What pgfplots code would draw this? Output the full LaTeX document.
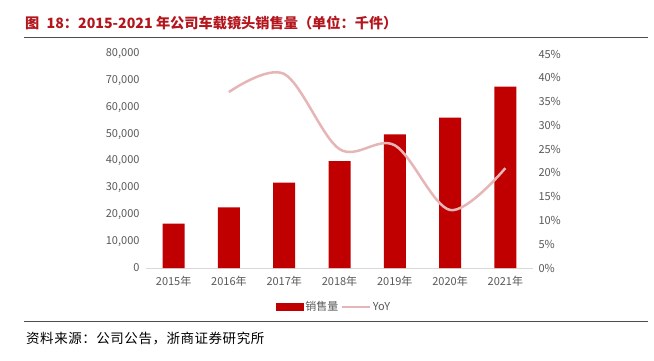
\documentclass[border=0pt]{standalone}
\usepackage{pgfplots}
\pgfplotsset{compat=1.18}
\usepackage{fontspec}
\setmainfont{Noto Sans CJK SC}
\definecolor{barred}{HTML}{C00000}
\definecolor{yoy}{HTML}{E6B6B6}
\definecolor{titlered}{HTML}{B4161E}
\definecolor{tickgray}{HTML}{595959}
\definecolor{axgray}{HTML}{D9D9D9}
\begin{document}
\begin{tikzpicture}[x=1pt,y=1pt]
\fill[white] (0,0) rectangle (654,360);
\node[anchor=west, text=titlered, font=\fontsize{14.2}{16}\selectfont\bfseries, inner sep=0pt] at (25,337) {图\hspace{4pt} 18：2015-2021 年公司车载镜头销售量（单位：千件）};
\draw[color=black!70, line width=1pt] (24,323) -- (648,323);
\draw[color=black!70, line width=1pt] (24,38.5) -- (648,38.5);
\node[anchor=west, text=black, font=\fontsize{13.5}{15}\selectfont\addfontfeatures{LetterSpace=4}, inner sep=0pt] at (26,21) {资料来源：公司公告，浙商证券研究所};

\begin{axis}[at={(146pt,92pt)}, anchor=south west, scale only axis,
  width=387pt, height=214pt,
  xmin=-0.5, xmax=6.5, ymin=0, ymax=80000,
  xtick={0,1,2,3,4,5,6},
  xticklabels={2015年,2016年,2017年,2018年,2019年,2020年,2021年},
  ytick={0,10000,20000,30000,40000,50000,60000,70000,80000},
  scaled y ticks=false,
  /pgf/number format/.cd, 1000 sep={,}, assume math mode=true, /pgfplots/.cd,
  axis x line*=bottom, axis y line*=left,
  x axis line style={draw=axgray, line width=0.8pt, -},
  y axis line style={draw=none},
  major tick length=0pt,
  tick label style={text=tickgray, font=\fontsize{11}{13}\selectfont},
  xticklabel style={yshift=-5pt},
  yticklabel style={xshift=-3pt},
  clip=false]
\addplot[ybar, bar width=22pt, fill=barred, draw=none] coordinates {
(0,16600) (1,22700) (2,31900) (3,40000) (4,50000) (5,56200) (6,67800)};
\end{axis}

\begin{axis}[at={(146pt,92pt)}, anchor=south west, scale only axis,
  width=387pt, height=214pt,
  xmin=-0.5, xmax=6.5, ymin=0, ymax=45,
  ytick={0,5,...,45},
  yticklabel={\pgfmathprintnumber{\tick}\%},
  /pgf/number format/.cd, assume math mode=true, /pgfplots/.cd,
  axis x line=none, axis y line*=right,
  y axis line style={draw=none},
  major tick length=0pt,
  tick label style={text=tickgray, font=\fontsize{11}{13}\selectfont},
  yticklabel style={xshift=2pt},
  legend style={at={(0.486,-0.182)}, anchor=center, draw=none, fill=none,
    legend columns=2, font=\fontsize{11}{13}\selectfont, text=tickgray,
    inner sep=0pt,
    /tikz/every odd column/.append style={column sep=0pt}},
  clip=false]
\addlegendimage{legend image code/.code={\fill[barred] (0pt,-3.5pt) rectangle (27pt,3.5pt);}}
\addlegendentry{销售量}
\addplot[yoy, line width=2.5pt, smooth, tension=0.55,
  legend image code/.code={\draw[yoy, line width=2.5pt] (0pt,0pt) -- (28pt,0pt);}]
  coordinates {(1,37.0) (2,40.8) (3,25.0) (4,25.8) (5,12.2) (6,21.0)};
\addlegendentry{YoY}
\end{axis}
\end{tikzpicture}
\end{document}
